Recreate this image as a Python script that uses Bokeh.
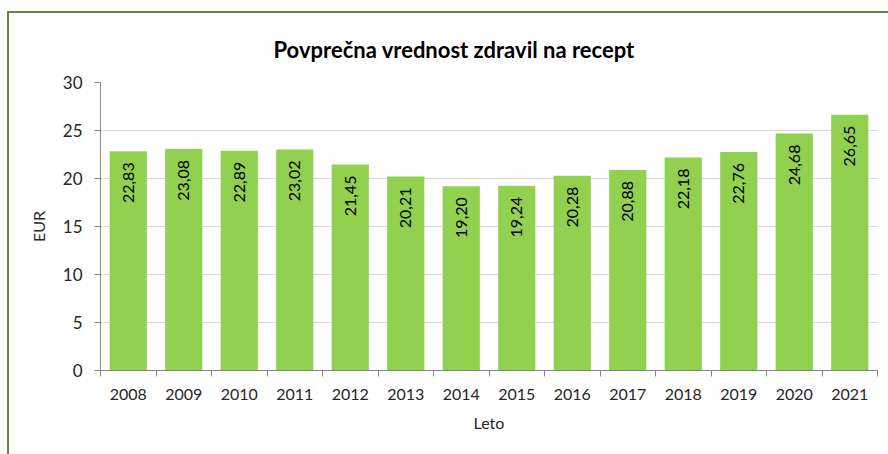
from bokeh.plotting import figure
from bokeh.models import ColumnDataSource, FixedTicker
from bokeh.layouts import column
from bokeh.core.properties import value
from bokeh.embed import file_html
from bokeh.resources import INLINE

years = ["2008", "2009", "2010", "2011", "2012", "2013", "2014",
         "2015", "2016", "2017", "2018", "2019", "2020", "2021"]
values = [22.83, 23.08, 22.89, 23.02, 21.45, 20.21, 19.20,
          19.24, 20.28, 20.88, 22.18, 22.76, 24.68, 26.65]
y_ticks = [0, 5, 10, 15, 20, 25, 30]

FONT = "Lato"
n = len(years)
idx = list(range(n))
labels = [f"{v:.2f}".replace(".", ",") for v in values]

src = ColumnDataSource(dict(x=idx, top=values, lab=labels))

p = figure(width=879, height=441, output_backend="svg", toolbar_location=None,
           x_range=(-0.5, n - 0.5), y_range=(0, 30),
           min_border_left=91, min_border_right=11, min_border_top=68, min_border_bottom=84)
p.title.text = "Povprečna vrednost zdravil na recept"
p.title.align = "left"
p.title.offset = 173
p.title.text_font = FONT
p.title.text_font_size = "22px"
p.title.text_font_style = "bold"
p.title.text_color = "#000000"
p.title.standoff = 40

p.vbar(x="x", top="top", width=0.67, bottom=0, source=src,
       fill_color="#92D050", line_color=None)

p.text(x="x", y="top", text="lab", source=src, angle=1.5708,
       text_align="right", text_baseline="middle", y_offset=11,
       text_font=value(FONT), text_font_size="16px", text_color="#000000")

p.outline_line_color = None
p.background_fill_color = "white"
p.border_fill_color = "white"

# x axis
xa = p.xaxis[0]
xa.ticker = FixedTicker(ticks=idx, minor_ticks=[i - 0.5 for i in range(n + 1)])
xa.major_label_overrides = {i: y for i, y in enumerate(years)}
xa.major_tick_out = 0
xa.major_tick_in = 0
xa.minor_tick_out = 6
xa.minor_tick_in = 0
xa.minor_tick_line_color = "#868686"
xa.axis_line_color = "#868686"
xa.major_label_standoff = 12
xa.major_label_text_font = FONT
xa.major_label_text_font_size = "16px"
xa.major_label_text_color = "#262626"
xa.axis_label = "Leto"
xa.axis_label_text_font = FONT
xa.axis_label_text_font_size = "16px"
xa.axis_label_text_font_style = "normal"
xa.axis_label_text_color = "#262626"
xa.axis_label_standoff = 10

ya = p.yaxis[0]
ya.ticker = FixedTicker(ticks=y_ticks)
ya.major_tick_out = 6
ya.major_tick_in = 0
ya.minor_tick_out = 0
ya.minor_tick_in = 0
ya.major_tick_line_color = "#868686"
ya.axis_line_color = "#868686"
ya.major_label_standoff = 12
ya.major_label_text_font = FONT
ya.major_label_text_font_size = "17px"
ya.major_label_text_color = "#262626"
ya.axis_label = "EUR"
ya.axis_label_text_font = FONT
ya.axis_label_text_font_size = "16px"
ya.axis_label_text_font_style = "normal"
ya.axis_label_text_color = "#262626"
ya.axis_label_standoff = 12

p.xgrid.grid_line_color = None
p.ygrid.grid_line_color = "#D9D9D9"
p.ygrid.ticker = FixedTicker(ticks=y_ticks)

layout = column(p, margin=(11, 0, 0, 7),
                styles={"border-left": "2px solid #5E8A3C", "border-top": "2px solid #5E8A3C"})

open("out.html", "w").write(file_html(layout, INLINE))
